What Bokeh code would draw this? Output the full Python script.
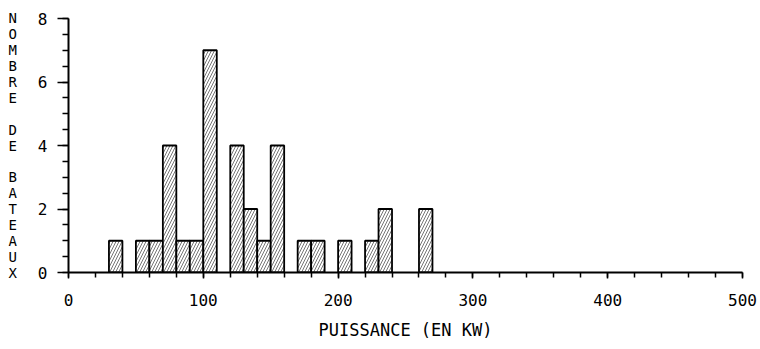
from bokeh.plotting import figure
from bokeh.models import FixedTicker, Range1d, Label
from bokeh.embed import file_html
from bokeh.resources import INLINE

# ---- data ----
bin_start = [30, 50, 60, 70, 80, 90, 100, 120, 130, 140, 150, 170, 180, 200, 220, 230, 260]
counts    = [1, 1, 1, 4, 1, 1, 7, 4, 2, 1, 4, 1, 1, 1, 1, 2, 2]
BIN_WIDTH = 10
x_ticks = [0, 100, 200, 300, 400, 500]
x_minor = list(range(0, 501, 20))
y_ticks = [0, 2, 4, 6, 8]
y_minor = [i * 0.5 for i in range(17)]
x_title = "PUISSANCE (EN KW)"
y_title = "NOMBRE DE BATEAUX"

FONT = "DejaVu Sans Mono"

p = figure(width=760, height=349, output_backend="svg", toolbar_location=None,
           x_range=Range1d(0, 500), y_range=Range1d(0, 8),
           min_border_left=68, min_border_right=18, min_border_top=18, min_border_bottom=77)
p.outline_line_color = None
p.xgrid.visible = False
p.ygrid.visible = False
p.background_fill_color = "white"
p.border_fill_color = "white"

p.quad(left=bin_start, right=[b + BIN_WIDTH for b in bin_start], bottom=0, top=counts,
       fill_color="white", line_color="black", line_width=1.8,
       hatch_pattern="right_diagonal_line", hatch_color="black", hatch_alpha=0.6,
       hatch_scale=6, hatch_weight=0.9)

# x axis
xa = p.xaxis[0]
xa.ticker = FixedTicker(ticks=x_ticks, minor_ticks=x_minor)
xa.axis_line_width = 2
xa.major_tick_out = 6
xa.major_tick_in = 0
xa.minor_tick_out = 5
xa.minor_tick_in = 0
xa.major_tick_line_width = 1.5
xa.minor_tick_line_width = 1.5
xa.major_label_text_font = FONT
xa.major_label_text_font_size = "16px"
xa.major_label_text_color = "black"
xa.major_label_standoff = 15
xa.axis_label = x_title
xa.axis_label_text_font = FONT
xa.axis_label_text_font_size = "17px"
xa.axis_label_text_font_style = "normal"
xa.axis_label_text_color = "black"
xa.axis_label_standoff = 11

# y axis
ya = p.yaxis[0]
ya.ticker = FixedTicker(ticks=y_ticks, minor_ticks=y_minor)
ya.axis_line_width = 2
ya.major_tick_out = 11
ya.major_tick_in = 0
ya.minor_tick_out = 6
ya.minor_tick_in = 0
ya.major_tick_line_width = 1.5
ya.minor_tick_line_width = 1.5
ya.major_label_text_font = FONT
ya.major_label_text_font_size = "16px"
ya.major_label_text_color = "black"
ya.major_label_standoff = 10

# stacked vertical y title (one upright letter per row)
stacked = "\n".join(ch if ch != " " else "\u00a0" for ch in y_title)
try:
    ya.axis_label = stacked
    ya.axis_label_orientation = "horizontal"
    ya.axis_label_text_font = FONT
    ya.axis_label_text_font_size = "14px"
    ya.axis_label_text_font_style = "normal"
    ya.axis_label_text_color = "black"
    ya.axis_label_text_line_height = 0.993
    ya.axis_label_standoff = 18
except Exception:
    ya.axis_label = None
    n = len(y_title)
    for i, ch in enumerate(y_title):
        if ch == " ":
            continue
        p.add_layout(Label(x=12, y=349 - 18 - i * 254 / (n - 1), x_units="screen", y_units="screen",
                           text=ch, text_font=FONT, text_font_size="14px", text_color="black",
                           text_align="center", text_baseline="middle"))

open("out.html", "w").write(file_html(p, INLINE))
